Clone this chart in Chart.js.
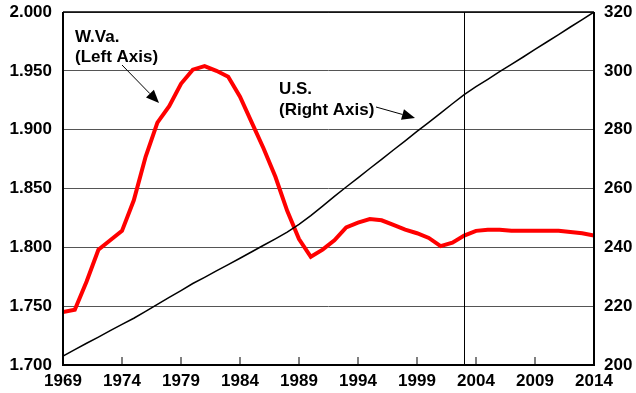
<!DOCTYPE html>
<html>
<head>
<meta charset="utf-8">
<script src="https://cdn.jsdelivr.net/npm/chart.js@4/dist/chart.umd.min.js"></script>
<style>
  html, body { margin: 0; padding: 0; background: #fff; }
  #wrap { width: 636px; height: 393px; }
</style>
</head>
<body>
<div id="wrap"><canvas id="popChart" width="636" height="393"></canvas></div>
<script>
// years 1969 - 2014
const years = [];
for (let y = 1969; y <= 2014; y++) years.push(y);

// W.Va. population, millions (left axis)
const wvPop = [
  1.745, 1.747, 1.771, 1.798, 1.806, 1.814, 1.840, 1.877, 1.906, 1.920,
  1.939, 1.951, 1.954, 1.950, 1.945, 1.928, 1.906, 1.884, 1.860, 1.831,
  1.807, 1.792, 1.798, 1.806, 1.817, 1.821, 1.824, 1.823, 1.819, 1.815,
  1.812, 1.808, 1.801, 1.804, 1.810, 1.814, 1.815, 1.815, 1.814, 1.814,
  1.814, 1.814, 1.814, 1.813, 1.812, 1.810
];

// U.S. population, millions (right axis)
const usPop = [
  203.0, 205.2, 207.4, 209.5, 211.7, 213.8, 215.9, 218.2, 220.6, 223.0,
  225.3, 227.7, 229.8, 232.0, 234.1, 236.3, 238.5, 240.7, 242.9, 245.2,
  247.8, 250.8, 254.0, 257.3, 260.5, 263.6, 266.8, 269.9, 273.1, 276.2,
  279.4, 282.5, 285.6, 288.8, 291.9, 294.6, 297.1, 299.7, 302.2, 304.7,
  307.3, 309.8, 312.3, 314.9, 317.4, 320.0
];

const xTicks = [1969, 1974, 1979, 1984, 1989, 1994, 1999, 2004, 2009, 2014];
const leftTicks = [1.700, 1.750, 1.800, 1.850, 1.900, 1.950, 2.000];
const rightTicks = [200, 220, 240, 260, 280, 300, 320];
const forecastYear = 2003;

const tickFont = { family: 'Liberation Sans, Arial, sans-serif', size: 17, weight: 'bold' };

function arrow(ctx, x1, y1, x2, y2) {
  const ang = Math.atan2(y2 - y1, x2 - x1);
  const len = 13, half = 5.5;
  const bx = x2 - len * Math.cos(ang), by = y2 - len * Math.sin(ang);
  ctx.beginPath();
  ctx.moveTo(x1, y1);
  ctx.lineTo(bx, by);
  ctx.lineWidth = 1;
  ctx.strokeStyle = '#000';
  ctx.stroke();
  ctx.beginPath();
  ctx.moveTo(x2, y2);
  ctx.lineTo(bx + half * Math.sin(ang), by - half * Math.cos(ang));
  ctx.lineTo(bx - half * Math.sin(ang), by + half * Math.cos(ang));
  ctx.closePath();
  ctx.fillStyle = '#000';
  ctx.fill();
}

const framePlugin = {
  id: 'frame',
  afterDatasetsDraw(chart) {
    const { ctx, chartArea: a, scales } = chart;
    ctx.save();
    // forecast divider
    const fx = Math.round(scales.x.getPixelForValue(forecastYear)) + 0.5;
    ctx.beginPath();
    ctx.moveTo(fx, a.top);
    ctx.lineTo(fx, a.bottom);
    ctx.lineWidth = 1;
    ctx.strokeStyle = '#000';
    ctx.stroke();

    // inward ticks on the bottom axis
    ctx.strokeStyle = '#555';
    ctx.lineWidth = 1.5;
    xTicks.slice(1, -1).forEach(t => {
      const px = scales.x.getPixelForValue(t);
      ctx.beginPath();
      ctx.moveTo(px, a.bottom);
      ctx.lineTo(px, a.bottom - 8);
      ctx.stroke();
    });

    // box
    ctx.strokeStyle = '#000';
    ctx.lineWidth = 1.5;
    ctx.beginPath();
    ctx.moveTo(a.left, a.top);
    ctx.lineTo(a.right, a.top);
    ctx.stroke();
    ctx.lineWidth = 2;
    ctx.beginPath();
    ctx.moveTo(a.left, a.top);
    ctx.lineTo(a.left, a.bottom);
    ctx.lineTo(a.right, a.bottom);
    ctx.lineTo(a.right, a.top);
    ctx.stroke();

    // labels
    ctx.fillStyle = '#000';
    ctx.font = 'bold 17px Liberation Sans, Arial, sans-serif';
    ctx.textBaseline = 'middle';
    ctx.textAlign = 'left';
    ctx.fillText('W.Va.', 75, 37);
    ctx.fillText('(Left Axis)', 75, 57);
    ctx.fillText('U.S.', 279, 89);
    ctx.fillText('(Right Axis)', 279, 110);
    arrow(ctx, 122, 65, 159, 103);
    arrow(ctx, 376, 107, 415, 118);
    ctx.restore();
  }
};

function fixVertical(width) {
  return s => {
    s.width = width;
    s.paddingTop = 0;
    s.paddingBottom = 0;
  };
}

new Chart(document.getElementById('popChart'), {
  type: 'line',
  plugins: [framePlugin],
  data: {
    labels: years,
    datasets: [
      {
        label: 'U.S.',
        data: usPop.map((v, i) => ({ x: years[i], y: v })),
        yAxisID: 'y1',
        borderColor: '#000',
        borderWidth: 1.5,
        pointRadius: 0,
        tension: 0,
        order: 0
      },
      {
        label: 'W.Va.',
        data: wvPop.map((v, i) => ({ x: years[i], y: v })),
        yAxisID: 'y',
        borderColor: '#ff0000',
        borderWidth: 4,
        pointRadius: 0,
        tension: 0,
        order: 1
      }
    ]
  },
  options: {
    responsive: false,
    animation: false,
    layout: { padding: { top: 12, left: 0, right: 0, bottom: 0 } },
    plugins: {
      legend: { display: false },
      tooltip: { enabled: false }
    },
    scales: {
      x: {
        type: 'linear',
        min: 1969,
        max: 2014,
        afterBuildTicks: s => { s.ticks = xTicks.map(v => ({ value: v })); },
        afterFit: s => { s.height = 28; },
        grid: { display: false, drawTicks: false },
        border: { display: false },
        ticks: { font: tickFont, color: '#000', padding: 6, maxRotation: 0, autoSkip: false, callback: v => String(v) }
      },
      y: {
        position: 'left',
        min: 1.7,
        max: 2.0,
        afterBuildTicks: s => { s.ticks = leftTicks.map(v => ({ value: v })); },
        afterFit: fixVertical(63),
        grid: { color: '#555', lineWidth: 1, drawTicks: false },
        border: { display: false },
        ticks: { font: tickFont, color: '#000', padding: 11, callback: v => Number(v).toFixed(3) }
      },
      y1: {
        position: 'right',
        min: 200,
        max: 320,
        afterBuildTicks: s => { s.ticks = rightTicks.map(v => ({ value: v })); },
        afterFit: fixVertical(42),
        grid: { display: false, drawTicks: false },
        border: { display: false },
        ticks: { font: tickFont, color: '#000', padding: 10, callback: v => String(v) }
      }
    }
  }
});
</script>
</body>
</html>
